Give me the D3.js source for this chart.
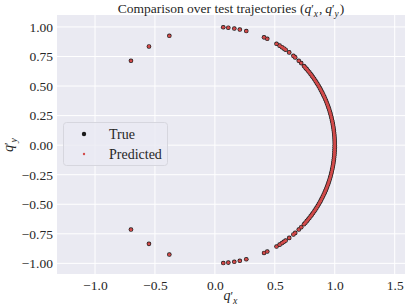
<!DOCTYPE html>
<html>
<head>
<meta charset="utf-8">
<script src="https://cdn.jsdelivr.net/npm/d3@7"></script>
<style>
  body { margin: 0; background: #fff; }
  svg text { font-family: "Liberation Serif", "DejaVu Serif", serif; fill: #262626; }
</style>
</head>
<body>
<div id="chart"></div>
<script>
  // True (q'_x, q'_y) samples
  const trueQx = [
    -0.700, -0.550, -0.380, 0.070, 0.112, 0.162, 0.208, 0.262, 0.410, 0.437,
    0.514, 0.540, 0.560, 0.575, 0.590, 0.620, 0.655, 0.670, 0.700, 0.720,
    0.7431, 0.7547, 0.7660, 0.7771, 0.7880, 0.7986, 0.8090, 0.8192, 0.8290, 0.8387,
    0.8480, 0.8572, 0.8660, 0.8746, 0.8829, 0.8910, 0.8988, 0.9063, 0.9135, 0.9205,
    0.9272, 0.9336, 0.9397, 0.9455, 0.9511, 0.9563, 0.9613, 0.9659, 0.9703, 0.9744,
    0.9781, 0.9816, 0.9848, 0.9877, 0.9903, 0.9925, 0.9945, 0.9962, 0.9976, 0.9986,
    0.9994, 0.9998, 1.0000,
    0.9998, 0.9994, 0.9986, 0.9976, 0.9962, 0.9945, 0.9925, 0.9903, 0.9877, 0.9848,
    0.9816, 0.9781, 0.9744, 0.9703, 0.9659, 0.9613, 0.9563, 0.9511, 0.9455, 0.9397,
    0.9336, 0.9272, 0.9205, 0.9135, 0.9063, 0.8988, 0.8910, 0.8829, 0.8746, 0.8660,
    0.8572, 0.8480, 0.8387, 0.8290, 0.8192, 0.8090, 0.7986, 0.7880, 0.7771, 0.7660,
    0.7547, 0.7431,
    0.720, 0.700, 0.670, 0.655, 0.620, 0.590, 0.575, 0.560, 0.540, 0.514,
    0.437, 0.410, 0.262, 0.208, 0.162, 0.112, 0.070, -0.380, -0.550, -0.700
  ];
  const trueQy = [
    0.714, 0.835, 0.925, 0.9975, 0.9937, 0.9868, 0.9781, 0.9651, 0.9121, 0.8995,
    0.8578, 0.8417, 0.8285, 0.8181, 0.8074, 0.7846, 0.7556, 0.7424, 0.7141, 0.6940,
    0.6691, 0.6561, 0.6428, 0.6293, 0.6157, 0.6018, 0.5878, 0.5736, 0.5592, 0.5446,
    0.5299, 0.5150, 0.5000, 0.4848, 0.4695, 0.4540, 0.4384, 0.4226, 0.4067, 0.3907,
    0.3746, 0.3584, 0.3420, 0.3256, 0.3090, 0.2924, 0.2756, 0.2588, 0.2419, 0.2250,
    0.2079, 0.1908, 0.1736, 0.1564, 0.1392, 0.1219, 0.1045, 0.0872, 0.0698, 0.0523,
    0.0349, 0.0175, 0.0000,
    -0.0175, -0.0349, -0.0523, -0.0698, -0.0872, -0.1045, -0.1219, -0.1392, -0.1564, -0.1736,
    -0.1908, -0.2079, -0.2250, -0.2419, -0.2588, -0.2756, -0.2924, -0.3090, -0.3256, -0.3420,
    -0.3584, -0.3746, -0.3907, -0.4067, -0.4226, -0.4384, -0.4540, -0.4695, -0.4848, -0.5000,
    -0.5150, -0.5299, -0.5446, -0.5592, -0.5736, -0.5878, -0.6018, -0.6157, -0.6293, -0.6428,
    -0.6561, -0.6691,
    -0.6940, -0.7141, -0.7424, -0.7556, -0.7846, -0.8074, -0.8181, -0.8285, -0.8417, -0.8578,
    -0.8995, -0.9121, -0.9651, -0.9781, -0.9868, -0.9937, -0.9975, -0.925, -0.835, -0.714
  ];
  // Predicted samples sit on top of the true ones at this scale
  const predQx = trueQx.slice();
  const predQy = trueQy.slice();

  const xTicks = [-1.0, -0.5, 0.0, 0.5, 1.0, 1.5];
  const yTicks = [-1.0, -0.75, -0.5, -0.25, 0.0, 0.25, 0.5, 0.75, 1.0];
  const legendLabels = ["True", "Predicted"];

  const width = 407, height = 308;
  const margin = { top: 15, right: 2, bottom: 34, left: 57 };
  const serif = "'Liberation Serif', 'DejaVu Serif', serif";

  const x = d3.scaleLinear().domain([-1.317, 1.586]).range([margin.left, width - margin.right]);
  const y = d3.scaleLinear().domain([-1.09, 1.101]).range([height - margin.bottom, margin.top]);

  const svg = d3.select("#chart").append("svg")
    .attr("width", width)
    .attr("height", height)
    .attr("font-family", serif);

  // axes background
  svg.append("rect")
    .attr("x", margin.left)
    .attr("y", margin.top)
    .attr("width", width - margin.left - margin.right)
    .attr("height", height - margin.top - margin.bottom)
    .attr("fill", "#eaeaf2");

  // grid lines
  const grid = svg.append("g").attr("stroke", "#fff").attr("stroke-width", 1);
  grid.selectAll("line.vx")
    .data(xTicks)
    .join("line")
      .attr("x1", d => x(d)).attr("x2", d => x(d))
      .attr("y1", margin.top).attr("y2", height - margin.bottom);
  grid.selectAll("line.hy")
    .data(yTicks)
    .join("line")
      .attr("y1", d => y(d)).attr("y2", d => y(d))
      .attr("x1", margin.left).attr("x2", width - margin.right);

  // axes with no tick marks, seaborn style
  const xAxis = svg.append("g")
    .attr("transform", `translate(0,${height - margin.bottom})`)
    .call(d3.axisBottom(x).tickValues(xTicks).tickFormat(d3.format(".1f")).tickSize(0).tickPadding(6));
  const yAxis = svg.append("g")
    .attr("transform", `translate(${margin.left},0)`)
    .call(d3.axisLeft(y).tickValues(yTicks).tickFormat(d3.format(".2f")).tickSize(0).tickPadding(4));
  [xAxis, yAxis].forEach(g => {
    g.attr("font-family", serif).attr("font-size", 13.5);
    g.select(".domain").remove();
    g.selectAll("text").attr("fill", "#262626");
  });

  const pts = d3.range(trueQx.length);

  // true points: black dots
  svg.append("g")
    .selectAll("circle")
    .data(pts)
    .join("circle")
      .attr("cx", i => x(trueQx[i]))
      .attr("cy", i => y(trueQy[i]))
      .attr("r", 2.3)
      .attr("fill", "#1a1a1a");

  // predicted points: small red dots
  svg.append("g")
    .selectAll("circle")
    .data(pts)
    .join("circle")
      .attr("cx", i => x(predQx[i]))
      .attr("cy", i => y(predQy[i]))
      .attr("r", 1.6)
      .attr("fill", "#d24a4a");

  // q' with a subscript, built from tspans
  const mathLabel = (parent, sub, size) => {
    parent.append("tspan").attr("font-style", "italic").text("q");
    parent.append("tspan").attr("font-size", size * 0.85).text("\u2032");
    parent.append("tspan").attr("font-size", size * 0.7).attr("font-style", "italic")
      .attr("dy", size * 0.3).text(sub);
    parent.append("tspan").attr("dy", -size * 0.3).text("\u200a");
  };

  // title
  const title = svg.append("text")
    .attr("x", (margin.left + width - margin.right) / 2)
    .attr("y", 12.5)
    .attr("text-anchor", "middle")
    .attr("font-size", 13.5);
  title.append("tspan").text("Comparison over test trajectories (");
  mathLabel(title, "x", 13.5);
  title.append("tspan").text(",\u2009");
  mathLabel(title, "y", 13.5);
  title.append("tspan").text(")");

  // axis labels
  const xl = svg.append("text")
    .attr("x", (margin.left + width - margin.right) / 2)
    .attr("y", 300)
    .attr("text-anchor", "middle")
    .attr("font-size", 14);
  mathLabel(xl, "x", 14);

  const yl = svg.append("text")
    .attr("transform", `translate(13,${(margin.top + height - margin.bottom) / 2}) rotate(-90)`)
    .attr("text-anchor", "middle")
    .attr("font-size", 14);
  mathLabel(yl, "y", 14);

  // legend
  const lg = svg.append("g");
  lg.append("rect")
    .attr("x", 63.5).attr("y", 122.5)
    .attr("width", 104).attr("height", 43)
    .attr("rx", 3)
    .attr("fill", "#eaeaf2").attr("fill-opacity", 0.8)
    .attr("stroke", "#d6d6de");
  lg.selectAll("circle")
    .data(legendLabels)
    .join("circle")
      .attr("cx", 84)
      .attr("cy", (d, i) => 134 + i * 20)
      .attr("r", (d, i) => i === 0 ? 2.2 : 1.2)
      .attr("fill", (d, i) => i === 0 ? "#1a1a1a" : "#d24a4a");
  lg.selectAll("text")
    .data(legendLabels)
    .join("text")
      .attr("x", 109)
      .attr("y", (d, i) => 138.5 + i * 20)
      .attr("font-size", 14)
      .text(d => d);
</script>
</body>
</html>
